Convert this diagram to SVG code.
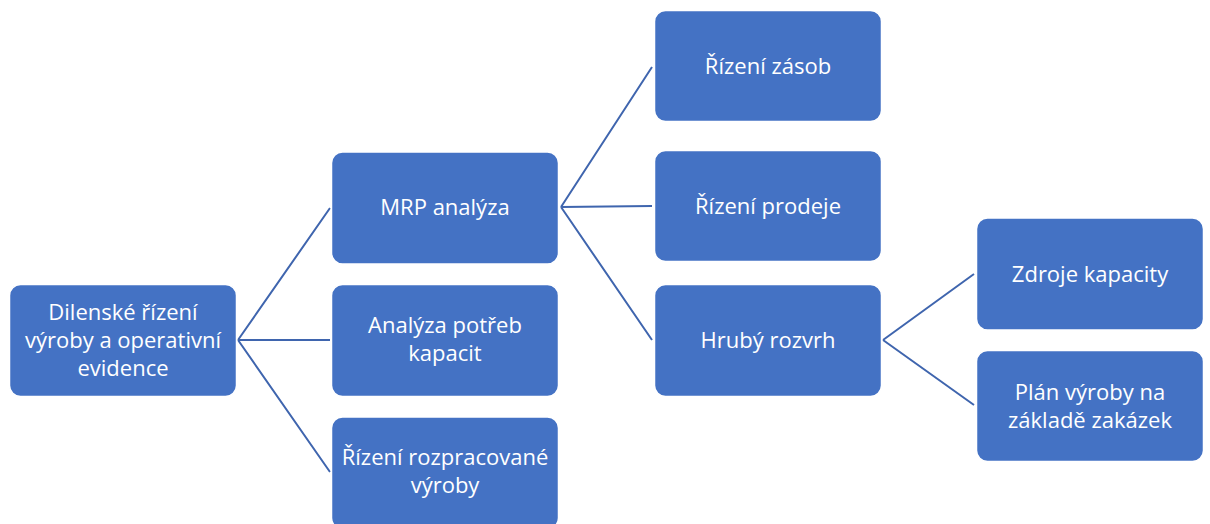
<svg xmlns="http://www.w3.org/2000/svg" width="1210" height="524" viewBox="0 0 1210 524">
<style>
.box{fill:#4472C4;stroke:#ffffff;stroke-width:1.5}
.t{font-family:"Open Sans","Noto Sans","DejaVu Sans",sans-serif;font-size:22px;fill:#ffffff;text-anchor:middle}
.c{stroke:#3F65AE;stroke-width:2;fill:none}
</style>
<rect width="1210" height="524" fill="#ffffff"/>
<g id="connectors">
<path class="c" d="M238,340 L330,208 M238,340 L330,340 M238,340 L330,472"/>
<path class="c" d="M561,207 L652,67 M561,207 L652,206 M561,207 L652,340"/>
<path class="c" d="M883,340 L974,274 M883,340 L974,405"/>
</g>
<g id="n1"><rect class="box" x="9.5" y="284.5" width="227" height="112" rx="11"/>
<text class="t" x="123" y="320">Dilenské řízení</text><text class="t" x="123" y="348">výroby a operativní</text><text class="t" x="123" y="376">evidence</text></g>
<g id="n2"><rect class="box" x="331.5" y="152" width="227" height="112" rx="11"/>
<text class="t" x="445" y="215">MRP analýza</text></g>
<g id="n3"><rect class="box" x="331.5" y="284.5" width="227" height="112" rx="11"/>
<text class="t" x="445" y="333">Analýza potřeb</text><text class="t" x="445" y="361">kapacit</text></g>
<g id="n4"><rect class="box" x="331.5" y="417" width="227" height="112" rx="11"/>
<text class="t" x="445" y="465">Řízení rozpracované</text><text class="t" x="445" y="493">výroby</text></g>
<g id="n5"><rect class="box" x="654.5" y="10.5" width="227" height="111" rx="11"/>
<text class="t" x="768" y="74">Řízení zásob</text></g>
<g id="n6"><rect class="box" x="654.5" y="150.5" width="227" height="111" rx="11"/>
<text class="t" x="768" y="214">Řízení prodeje</text></g>
<g id="n7"><rect class="box" x="654.5" y="284.5" width="227" height="112" rx="11"/>
<text class="t" x="768" y="348">Hrubý rozvrh</text></g>
<g id="n8"><rect class="box" x="976.5" y="218" width="227" height="112" rx="11"/>
<text class="t" x="1090" y="282">Zdroje kapacity</text></g>
<g id="n9"><rect class="box" x="976.5" y="350.5" width="227" height="111" rx="11"/>
<text class="t" x="1090" y="400">Plán výroby na</text><text class="t" x="1090" y="428">základě zakázek</text></g>
</svg>
